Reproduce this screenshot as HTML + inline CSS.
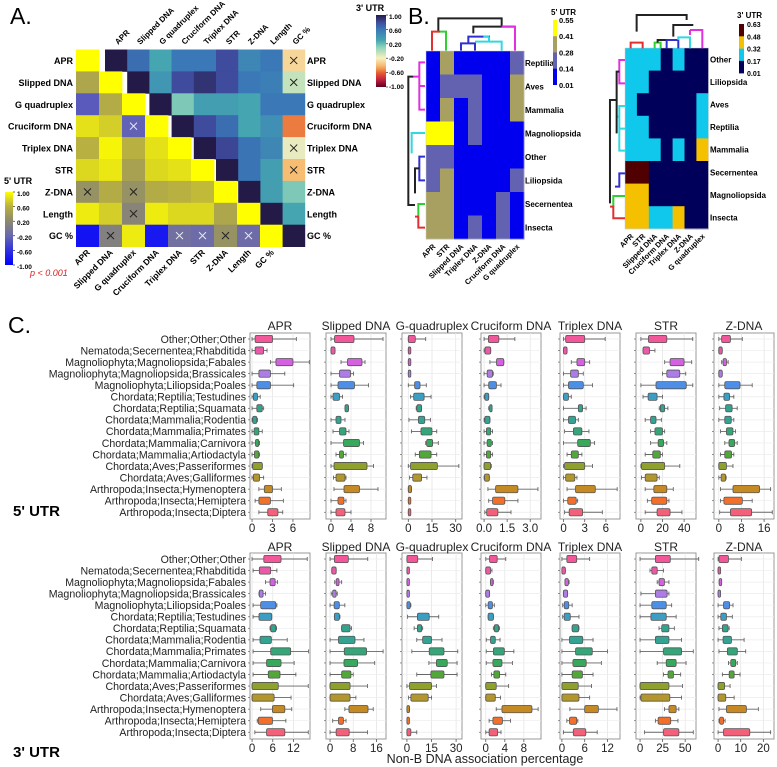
<!DOCTYPE html>
<html><head><meta charset="utf-8">
<style>
html,body{margin:0;padding:0;background:#fff;}
svg{display:block;font-family:"Liberation Sans",Arial,sans-serif;}
.b{font-weight:bold;}
</style></head>
<body>
<svg id="fig" width="777" height="767" viewBox="0 0 777 767" xmlns="http://www.w3.org/2000/svg">
  <text x="10" y="24" font-size="23">A.</text>
  <text x="408" y="24" font-size="23">B.</text>
  <text x="8" y="333" font-size="23">C.</text>
  <g id="panelA"></g>
  <g id="panelB"></g>
  <g id="panelC"></g>
</svg>
<script>
// ---------- Panel A data ----------
const aLabels = ["APR","Slipped DNA","G quadruplex","Cruciform DNA","Triplex DNA","STR","Z-DNA","Length","GC %"];
// 5' UTR lower triangle values (row i, cols 0..i-1)
const a5Values = [
  [],
  [0.5],
  [-0.3,0.55],
  [0.85,0.75,-0.25],
  [0.6,0.95,0.6,0.85],
  [0.8,0.88,0.45,0.8,0.85],
  [0.3,0.55,0.3,0.55,0.6,0.65],
  [0.9,0.75,0.15,0.9,0.8,0.8,0.5],
  [-0.85,0.1,0.9,-0.8,-0.1,-0.15,0.3,-0.15]
];
// 3' UTR upper triangle values (row i, cols i+1..8)
const a3Values = [
  [0.65,0.3,0.6,0.6,0.8,0.5,0.6,-0.3],
  [0.4,0.8,0.9,0.8,0.6,0.55,-0.05],
  [0.15,0.35,0.35,0.3,0.6,0.6],
  [0.8,0.65,0.3,0.45,-0.55],
  [0.82,0.62,0.5,-0.15],
  [0.62,0.35,-0.4],
  [0.35,0.15],
  [0.3],
  []
];
// non-significant markers: [row,col,colour]
const a5Cross = [[3,2,"w"],[6,0,"k"],[6,2,"k"],[7,2,"k"],[8,1,"k"],[8,4,"w"],[8,5,"w"],[8,6,"k"],[8,7,"w"]];
const a3Cross = [[0,8],[1,8],[4,8],[5,8]];
const cbTicks = ["1.00","0.60","0.20","-0.20","-0.60","-1.00"];

// ---------- Panel B data ----------
const bCols5 = ["APR","STR","Slipped DNA","Triplex DNA","Z-DNA","Cruciform DNA","G quadruplex"];
const bRows5 = ["Reptilia","Aves","Mammalia","Magnoliopsida","Other","Liliopsida","Secernentea","Insecta"];
const bVals5 = [
  [0.05,0.35,0.05,0.05,0.05,0.05,0.2],
  [0.05,0.2,0.2,0.2,0.05,0.05,0.35],
  [0.05,0.35,0.05,0.2,0.05,0.05,0.35],
  [0.5,0.5,0.05,0.2,0.05,0.05,0.05],
  [0.2,0.2,0.05,0.05,0.05,0.05,0.05],
  [0.2,0.35,0.05,0.05,0.05,0.05,0.2],
  [0.35,0.35,0.05,0.05,0.05,0.2,0.05],
  [0.35,0.35,0.05,0.2,0.05,0.2,0.05]
];
const bTicks5 = ["0.55","0.41","0.28","0.14","0.01"];
const bCols3 = ["APR","STR","Slipped DNA","Cruciform DNA","Triplex DNA","Z-DNA","G quadruplex"];
const bRows3 = ["Other","Liliopsida","Aves","Reptilia","Mammalia","Secernentea","Magnoliopsida","Insecta"];
const bVals3 = [
  [0.25,0.25,0.25,0.05,0.25,0.05,0.05],
  [0.25,0.25,0.05,0.05,0.05,0.05,0.05],
  [0.25,0.05,0.05,0.05,0.05,0.05,0.25],
  [0.25,0.25,0.05,0.05,0.05,0.05,0.25],
  [0.25,0.25,0.25,0.05,0.25,0.05,0.4],
  [0.6,0.6,0.05,0.05,0.05,0.05,0.05],
  [0.4,0.4,0.05,0.05,0.05,0.05,0.05],
  [0.4,0.4,0.25,0.25,0.4,0.05,0.05]
];
const bTicks3 = ["0.63","0.48","0.32","0.17","0.01"];

// ---------- Panel C data ----------
const cRows = ["Other;Other;Other","Nematoda;Secernentea;Rhabditida","Magnoliophyta;Magnoliopsida;Fabales","Magnoliophyta;Magnoliopsida;Brassicales","Magnoliophyta;Liliopsida;Poales","Chordata;Reptilia;Testudines","Chordata;Reptilia;Squamata","Chordata;Mammalia;Rodentia","Chordata;Mammalia;Primates","Chordata;Mammalia;Carnivora","Chordata;Mammalia;Artiodactyla","Chordata;Aves;Passeriformes","Chordata;Aves;Galliformes","Arthropoda;Insecta;Hymenoptera","Arthropoda;Insecta;Hemiptera","Arthropoda;Insecta;Diptera"];
const cFeatures = ["APR","Slipped DNA","G-quadruplex","Cruciform DNA","Triplex DNA","STR","Z-DNA"];
const cColors = ["#f2579a","#ea5aa8","#d462e0","#ad7ce6","#4d8fe6","#3b9fc4","#34a38e","#34a393","#36a67a","#37a95c","#52a73a","#8fa12c","#b3962c","#c68a25","#f3702b","#f2607a"];
// each row: [whiskerLow, q1, q3, whiskerHigh]
const utr5_APR = [[0,0.45,3.0,6.5],[0,0.45,1.7,2.2],[2.7,3.5,6.0,8.4],[0,1,2.7,4.8],[0,0.7,2.7,6.1],[0,0.2,0.8,1.2],[0,0.7,1.5,1.7],[0,0.1,0.7,0.8],[0,0.3,1.0,1.5],[0,0.5,1.0,1.1],[0,0.35,1.0,1.1],[0,0.1,1.5,1.5],[0,0.2,1.1,1.7],[1,1.8,3.0,4.3],[0.45,1,2.7,4.6],[1,2.3,3.8,4.5]];
const utr5_Slipped = [[0,0.7,4.6,10.4],[0,0,0.8,0.8],[2,3.3,6.2,6.8],[0,1.7,3.9,4.5],[0,1.4,4.7,7.5],[0,0.4,1.7,2.3],[2.8,2.8,3.5,3.5],[0,1,2,2.8],[0.4,1.7,3,3.6],[0,2.5,5.7,6.5],[1,1.7,2.5,3],[0,0.6,7.2,8.5],[0.5,1,2.8,3.0],[0.6,2.6,5.7,9.4],[0,1.4,2.6,3.0],[0,1,2.8,4]];
const utr5_G = [[0,0,4.4,11],[0,0,0.6,0.6],[0,0,0.6,0.6],[0,0,0.6,0.6],[0,4,7.4,11.4],[1.4,3.4,10,14.4],[5,5.4,8.4,8.4],[0.4,6.4,10.4,14],[2,8,15,18],[11,11.6,15.4,19],[4.4,7,14.4,18],[0,1.4,18.4,32],[0.8,2.8,8.4,11.8],[0,0,2,2],[0,0,1.2,1.2],[0,0,1.2,1.2]];
const utr5_Cru = [[0,0.28,0.96,2.0],[0,0.06,0.43,0.43],[0.38,0.81,1.28,1.28],[0,0.2,0.55,0.6],[0,0.3,0.8,1.1],[0,0.05,0.3,0.3],[0.3,0.36,0.5,0.5],[0,0.05,0.38,0.38],[0,0.15,0.43,0.55],[0,0.2,0.47,0.55],[0,0.15,0.43,0.55],[0,0,0.43,0.47],[0,0.03,0.34,0.34],[0.25,0.75,2.2,3.5],[0.3,0.55,1.35,2.2],[0.05,0.17,0.9,1.75]];
const utr5_Tri = [[0,0.3,3,5.9],[0,0,0.5,0.5],[1.1,1.9,3,3.7],[0,1,2.1,2.8],[0,0.7,2.8,4.1],[0,0,0.7,1.1],[0,2.1,2.7,3.2],[0,0.7,1.7,2.1],[0.15,1.4,2.6,3.6],[0,2,3.8,4.4],[0.5,1.1,2.1,2.6],[0,0.15,3,4.1],[0,0.3,1.6,1.9],[0.5,1.7,4.5,7.6],[0,0.6,1.8,2],[0.15,0.8,2.7,5.5]];
const utr5_STR = [[0,7,24,48],[2,2,8,13],[22,27,40,47],[20,24,36,41.5],[0,14,42,48],[2,6.7,15,20],[17,18,22,25],[4,9,14,19],[9,13,20,22],[9,16,21,24],[4,11,18,20],[0,0.6,22,36],[0.6,4,15,17],[4,12,24,30],[6,10,24,26],[4,15,27,38]];
const utr5_Z = [[0,1,4.1,8.3],[0,0,1.2,1.2],[1,1.5,2.7,3.3],[0,0,1.2,1.2],[0,2.1,7.5,11.8],[0,1.8,3.8,5.3],[0.3,2.4,4.7,6.5],[0,2.1,4.4,5.3],[0.6,2.7,5,5.9],[2.1,3.6,5.6,6.5],[0.6,2.1,4.5,5.3],[0,0,2.7,5],[0,0.8,2.4,2.6],[0.6,5,14.4,18.3],[0.6,1.8,8.3,11.8],[0.3,4.1,11.6,18.9]];

const utr3_APR = [[0,3.4,8.4,16],[0.3,2.1,5.4,7.2],[3.9,5.2,6.7,7.4],[2,2.1,3.2,3.9],[0.3,2.5,6.9,7.2],[0.3,2,5.7,5.7],[5.2,5.4,6.9,7.1],[0.3,2.3,5.6,10.2],[0.3,5.4,11.2,16.4],[0.3,4.2,8.4,12.2],[0.3,4.7,8.1,12.7],[0,0,7.6,16.3],[0,0,6.4,11.3],[2.5,5.9,9.5,11.5],[1.5,1.8,5.9,9.8],[0.8,4.2,9.5,16.3]];
const utr3_Slipped = [[0,1.5,6.3,13],[0.6,0.6,2.1,2.1],[1.6,2.1,3.1,4],[0.4,0.9,2.1,2.5],[0,1.4,3.2,5.1],[1.5,1.5,3.2,3.4],[4,4,6.9,7.4],[0,2.9,8.6,11.7],[0,4.9,12.6,18.3],[0,4.8,9.5,15.4],[0,4,7.2,8],[0,0,6.9,12.9],[0,0,6.9,8.9],[5.1,6.5,13.1,14.9],[0.9,2.9,4.6,5.5],[0,2.1,6.6,12.9]];
const utr3_G = [[0,0,6.6,15.6],[0,0,0.6,0.6],[0,0,0.5,0.5],[0,0,0.5,0.5],[0,0,2,2.4],[0.4,6.4,13.6,19.4],[4.4,6.4,9,9.6],[6,9.6,15,21.4],[3,13.6,22.6,31],[13.4,18,24.6,30.6],[6,14.6,22.6,30.6],[0,1.6,15,18],[1,2.4,13,15],[0,0,1.6,1.6],[0,0,0.8,0.8],[0,0,2.4,6]];
const utr3_Cru = [[0,0.8,2.4,4.2],[0,0,1,1.3],[1,1,1.5,1.6],[0,0,0.8,0.8],[0,0.5,1.4,1.8],[0.5,0.5,1.6,1.6],[1.6,1.8,2.7,2.9],[0.1,1,2,3],[0.1,1.6,3.9,5.9],[0.1,1.5,3.4,5.6],[1.2,1.7,2.9,4.2],[0,0,2.2,4.8],[0,0,2,3.1],[2.2,3.4,9.7,11],[0.7,1.5,3.5,5.2],[0,0.7,2.5,3.2]];
const utr3_Tri = [[0,1.3,3.9,7.3],[0,0,0.9,0.9],[0.8,0.8,1.7,1.9],[0.4,0.4,1.5,1.5],[0.2,0.6,1.8,2.7],[0.2,0.6,2.2,4.5],[2.7,2.7,4.4,4.5],[0,2,5.5,8.2],[0,3.6,8,12],[0,2.9,6.4,10.4],[0,2.7,5.4,8.2],[0,0,4.3,7.8],[0,0,4.5,7.3],[2.1,6,9.6,14.5],[1.3,2,3.9,4.2],[0.4,3,6.3,9.3]];
const utr3_STR = [[0,17,33.5,65],[11,13,19,26],[19,21,27,32],[1,17,30,32],[0,13,29,35],[0,12,29,40],[21,24,32,38],[0,17,32,46],[0,26,46,59],[19,29,40,51],[26,31,37,45],[0,0,32,47],[0,1,33,46],[27,32,40,43],[17,20,34,42],[5,26,43,59]];
const utr3_Z = [[0,0.4,4.6,10.3],[0,0,0.9,0.9],[0.5,0.5,1.2,1.2],[0,0,1,1],[0,2.4,5.1,6.6],[0,1.2,3.7,6.3],[0.4,1.9,4.4,4.9],[0,2.2,5.9,11.5],[0.4,4.1,8.5,12.2],[4.6,5.6,7.8,8.5],[1.9,4.9,7.1,9.7],[0,0,2.9,5.3],[0,0,3.4,7.1],[0.4,3.7,12.5,17.8],[0.4,0.7,2.4,3.1],[0,2.4,14,23.2]];

const utr5_domains = [[-0.3,8.5],[-1,11],[-4,34],[-0.2,3.7],[-0.5,8],[-4.5,51],[-1.7,19.5]];
const utr5_ticks = [[0,3,6],[0,4,8],[0,15,30],[0,1.5,3.0],[0,3,6],[0,20,40],[0,8,16]];
const utr5_tickLabels = [["0","3","6"],["0","4","8"],["0","15","30"],["0.0","1.5","3.0"],["0","3","6"],["0","20","40"],["0","8","16"]];
const utr3_domains = [[-0.6,16.8],[-1.4,19.3],[-3,33.6],[-1,11.6],[-0.5,15.3],[-4.5,62],[-1.8,24.7]];
const utr3_ticks = [[0,6,12],[0,8,16],[0,15,30],[0,4,8],[0,6,12],[0,25,50],[0,10,20]];
const utr3_tickLabels = [["0","6","12"],["0","8","16"],["0","15","30"],["0","4","8"],["0","6","12"],["0","25","50"],["0","10","20"]];

// ---------- helpers ----------
const NS = "http://www.w3.org/2000/svg";
function mk(tag, attrs, parent, txt){
  const e = document.createElementNS(NS, tag);
  for (const k in attrs) e.setAttribute(k, attrs[k]);
  if (txt !== undefined) e.textContent = txt;
  parent.appendChild(e);
  return e;
}
function hex(h){return [parseInt(h.substr(1,2),16),parseInt(h.substr(3,2),16),parseInt(h.substr(5,2),16)];}
function interp(stops, v){
  if (v <= stops[0][0]) return stops[0][1];
  for (let i=1;i<stops.length;i++){
    if (v <= stops[i][0]){
      const t=(v-stops[i-1][0])/(stops[i][0]-stops[i-1][0]);
      const a=hex(stops[i-1][1]), b=hex(stops[i][1]);
      return "rgb("+a.map((x,k)=>Math.round(x+(b[k]-x)*t)).join(",")+")";
    }
  }
  return stops[stops.length-1][1];
}
const cmap5 = [[-1,"#0000ff"],[-0.6,"#3030e0"],[-0.2,"#6868b0"],[0.2,"#8c8870"],[0.6,"#b8b040"],[1,"#ffff00"]];
const cmap3 = [[-1,"#600020"],[-0.8,"#c02040"],[-0.6,"#e86030"],[-0.45,"#f5b060"],[-0.2,"#f8f0c0"],[0.1,"#8fd4b8"],[0.3,"#45a5b0"],[0.6,"#3a78b8"],[0.8,"#3f4b9c"],[1,"#241a48"]];

// ---------- Panel A ----------
(function(){
  const g = document.getElementById("panelA");
  const x5=76, w5=23, y0=49.5, h=21.9, x3=105, w3=22.2;
  const defs = mk("defs",{},g);
  const lg3 = mk("linearGradient",{id:"g3",x1:0,y1:0,x2:0,y2:1},defs);
  const lg5 = mk("linearGradient",{id:"g5",x1:0,y1:0,x2:0,y2:1},defs);
  for (let i=0;i<=20;i++){ const v=1-i*0.1;
    mk("stop",{offset:(i/20),"stop-color":interp(cmap3,v)},lg3);
    mk("stop",{offset:(i/20),"stop-color":interp(cmap5,v)},lg5);
  }
  for (let i=0;i<9;i++){
    // 5' lower triangle
    for (let j=0;j<=i;j++){
      const v = (j===i)?1:a5Values[i][j];
      const r = mk("rect",{x:x5+j*w5,y:y0+i*h,width:w5+0.4,height:h+0.4,fill:interp(cmap5,v)},g);
      
      
    }
    // 3' upper triangle
    for (let j=i;j<9;j++){
      const v = (j===i)?1:a3Values[i][j-i-1];
      const r = mk("rect",{x:x3+j*w3,y:y0+i*h,width:w3+0.4,height:h+0.4,fill:interp(cmap3,v)},g);
      
      
    }
    const tl = mk("text",{x:73,y:y0+i*h+h/2+3.5,"font-size":9,"font-weight":"bold","text-anchor":"end"},g,aLabels[i]);
    
    
    const tr = mk("text",{x:307,y:y0+i*h+h/2+3.5,"font-size":9,"font-weight":"bold"},g,aLabels[i]);
    
    
    const cx = x3+(i+0.5)*w3+2, ct = mk("text",{x:cx,y:45,"font-size":8,"font-weight":"bold",transform:"rotate(-45 "+cx+" 45)"},g,aLabels[i]);
    
    
    const bx = x5+(i+0.5)*w5+3, cb = mk("text",{x:bx,y:253,"font-size":8.5,"font-weight":"bold","text-anchor":"end",transform:"rotate(-45 "+bx+" 253)"},g,aLabels[i]);
    
    
  }
  function cross(cx,cy,col){
    const s=3.5, st=col==="w"?"#e8e8f0":"#222";
    const p=mk("path",{d:`M${cx-s},${cy-s}L${cx+s},${cy+s}M${cx+s},${cy-s}L${cx-s},${cy+s}`,stroke:st,"stroke-width":1},g);
    
    
  }
  a5Cross.forEach(c=>cross(x5+(c[1]+0.5)*w5,y0+(c[0]+0.5)*h,c[2]));
  a3Cross.forEach(c=>cross(x3+(c[1]+0.5)*w3,y0+(c[0]+0.5)*h,"k"));
  // colorbars
  const cb3=mk("rect",{x:376,y:15,width:10,height:72,fill:"url(#g3)"},g);
  
  
  mk("text",{x:356,y:11,"font-size":9,"font-weight":"bold"},g,"3' UTR");
  const cb5=mk("rect",{x:5,y:192,width:8,height:73,fill:"url(#g5)"},g);
  
  
  mk("text",{x:4,y:184,"font-size":9,"font-weight":"bold"},g,"5' UTR");
  cbTicks.forEach((t,i)=>{
    mk("text",{x:389,y:17+i*14+2,"font-size":6.5,"font-weight":"bold"},g,t);
    mk("line",{x1:386,x2:388,y1:15+i*14.4,y2:15+i*14.4,stroke:"#000","stroke-width":0.6},g);
    mk("text",{x:17,y:194+i*14.6+2,"font-size":6.5,"font-weight":"bold"},g,t);
    mk("line",{x1:13,x2:15,y1:192+i*14.6,y2:192+i*14.6,stroke:"#000","stroke-width":0.6},g);
  });
  const pv=mk("text",{x:30,y:276,"font-size":9,"font-style":"italic",fill:"#e02020"},g,"p < 0.001");
  
  
})();

// ---------- Panel B ----------
(function(){
  const g = document.getElementById("panelB");
  const pal5 = [[0.01,"#0000ee"],[0.14,"#6262b0"],[0.28,"#a8a060"],[0.41,"#ffff00"]];
  const pal3 = [[0.01,"#00005a"],[0.17,"#10c8ec"],[0.32,"#f5c000"],[0.48,"#500000"]];
  function disc(p,v){let c=p[0][1]; for(const s of p){ if(v>=s[0]) c=s[1]; } return c;}
  function heat(vals,rows,cols,pal,x0,y0,cw,rh,lx,name){
    vals.forEach((row,i)=>row.forEach((v,j)=>{
      const r=mk("rect",{x:x0+j*cw,y:y0+i*rh,width:cw+0.4,height:rh+0.4,fill:disc(pal,v)},g);
      
      
    }));
    mk("rect",{x:x0,y:y0,width:cw*cols.length,height:rh*rows.length,fill:"none",stroke:"#ccc","stroke-width":0.5},g);
    rows.forEach((t,i)=>{
      const e=mk("text",{x:lx,y:y0+(i+0.5)*rh+3,"font-size":8,"font-weight":"bold"},g,t);
      
      
    });
    cols.forEach((t,j)=>{
      const cx=x0+(j+0.5)*cw+3, cy=y0+rows.length*rh+8;
      const e=mk("text",{x:cx,y:cy,"font-size":7.5,"font-weight":"bold","text-anchor":"end",transform:`rotate(-45 ${cx} ${cy})`},g,t);
      
      
    });
  }
  heat(bVals5,bRows5,bCols5,pal5,426,51,14,23.5,525,"utr5-cluster");
  heat(bVals3,bRows3,bCols3,pal3,625,48,11.9,22.6,710,"utr3-cluster");
  // legends
  const l5=["#ffff00","#a8a060","#6262b0","#0000ee"], l3=["#500000","#f5c000","#10c8ec","#00005a"];
  l5.forEach((c,i)=>mk("rect",{x:553,y:20+i*16.2,width:4,height:16.4,fill:c},g));
  l3.forEach((c,i)=>mk("rect",{x:739,y:24+i*12.3,width:5,height:12.5,fill:c},g));
  mk("text",{x:551,y:15,"font-size":8,"font-weight":"bold"},g,"5' UTR");
  mk("text",{x:737,y:18,"font-size":8,"font-weight":"bold"},g,"3' UTR");
  bTicks5.forEach((t,i)=>mk("text",{x:559,y:23+i*16.2,"font-size":7.5,"font-weight":"bold"},g,t));
  bTicks3.forEach((t,i)=>mk("text",{x:747,y:27+i*12.3,"font-size":7,"font-weight":"bold"},g,t));
  // dendrograms (drawn in zoomed coords)
  const d = mk("g",{transform:"translate(390,0) scale(0.3333)",fill:"none","stroke-width":6},g);
  
  
  const segs = [
    ["#222","M145,95 V55 H335 V80"],
    ["#e03030","M126,152 V95 H150"],["#30d030","M150,95 H168 V152"],
    ["#222","M250,100 V80 H375"],
    ["#3030d0","M213,152 V130 H255 V152 M235,130 V110 H297 V125"],
    ["#30d8e0","M255,125 H297 M297,110 V125 H335 V152 M280,110 H297"],
    ["#e030e0","M335,80 H375 V152"],
    ["#e030e0","M105,187 H88 V329 H105 M88,258 H105 M88,230 H70"],
    ["#222","M70,230 H55 V615 H75"],
    ["#30d8e0","M105,399 H65 V460"],
    ["#3030d0","M105,470 H88 V541 H105"],
    ["#222","M88,505 H75 V580"],
    ["#30d030","M105,612 H85 V650"],["#e03030","M105,683 H85 V650 H75"],
    // right
    ["#222","M740,95 V45 H890 V60"],
    ["#e03030","M722,145 V128 H758 V145"],
    ["#30d030","M794,145 V128 H812 V145"],
    ["#222","M803,128 V120 H850 M850,110 V75 H910"],
    ["#3030d0","M830,145 V120 H865 V145"],
    ["#30d8e0","M865,120 V112 H900 V145"],
    ["#e030e0","M900,90 H937 V145 M900,90 V105"],
    ["#e030e0","M705,180 H688 V250 H705"],
    ["#30d8e0","M705,318 H688 V452 H705 M688,386 H705 M688,350 H680"],
    ["#222","M688,215 H680 V400 M680,300 H660 V610"],
    ["#3030d0","M705,520 H688 V560 H675"],
    ["#30d030","M705,588 H670 V620"],["#e03030","M705,655 H670 V620 H660"]
  ];
  segs.forEach(s=>mk("path",{d:s[1],stroke:s[0]},d));
})();

// ---------- Panel C ----------
(function(){
  const g = document.getElementById("panelC");
  const px = [250,326,402,481,560,636,714], pw = 60, rowH = 11.55;
  const data5 = [utr5_APR,utr5_Slipped,utr5_G,utr5_Cru,utr5_Tri,utr5_STR,utr5_Z];
  const data3 = [utr3_APR,utr3_Slipped,utr3_G,utr3_Cru,utr3_Tri,utr3_STR,utr3_Z];
  function block(data, doms, ticks, tlabels, top, bottom, firstRow, titleY, name){
    cRows.forEach((r,i)=>{
      const t=mk("text",{x:246,y:firstRow+i*rowH+3.8,"font-size":10.6,"text-anchor":"end",fill:"#222"},g,r);
      
      
    });
    data.forEach((rows,k)=>{
      const x0=px[k], dom=doms[k];
      const sx = v => x0 + (v-dom[0])/(dom[1]-dom[0])*pw;
      const pg = mk("g",{},g);
      
      
      mk("rect",{x:x0,y:top,width:pw,height:bottom-top,fill:"#fff",stroke:"#999","stroke-width":1},pg);
      ticks[k].forEach((tv,ti)=>{
        mk("line",{x1:sx(tv),x2:sx(tv),y1:top,y2:bottom,stroke:"#e6e6e6","stroke-width":0.8},pg);
        mk("line",{x1:sx(tv),x2:sx(tv),y1:bottom,y2:bottom+3,stroke:"#555","stroke-width":0.8},pg);
        mk("text",{x:sx(tv),y:bottom+13,"font-size":11.5,"text-anchor":"middle",fill:"#222"},pg,tlabels[k][ti]);
      });
      cRows.forEach((r,i)=>{
        const y=firstRow+i*rowH;
        mk("line",{x1:x0,x2:x0+pw,y1:y,y2:y,stroke:"#ececec","stroke-width":0.7},pg);
        mk("line",{x1:x0-2,x2:x0,y1:y,y2:y,stroke:"#666","stroke-width":0.7},pg);
      });
      rows.forEach((b,i)=>{
        const y=firstRow+i*rowH;
        const w=mk("path",{d:`M${sx(b[0])},${y}H${sx(b[1])}M${sx(b[2])},${y}H${sx(b[3])}M${sx(b[0])},${y-2}V${y+2}M${sx(b[3])},${y-2}V${y+2}`,stroke:"#666","stroke-width":0.9},pg);
        
        
        const bx=mk("rect",{x:sx(b[1]),y:y-3.6,width:Math.max(2.5,sx(b[2])-sx(b[1])),height:7.2,rx:1.5,fill:cColors[i],stroke:"#555","stroke-width":0.8},pg);
        
        
      });
      const tt=mk("text",{x:x0+pw/2,y:titleY,"font-size":12,"text-anchor":"middle",fill:"#222"},pg,cFeatures[k]);
      
      
    });
  }
  block(data5,utr5_domains,utr5_ticks,utr5_tickLabels,333,519,339,330,"utr5");
  block(data3,utr3_domains,utr3_ticks,utr3_tickLabels,553,739,559,551,"utr3");
  const a=mk("text",{x:13,y:516,"font-size":15,"font-weight":"bold"},g,"5' UTR");
  
  
  const b=mk("text",{x:13,y:757,"font-size":15,"font-weight":"bold"},g,"3' UTR");
  
  
  const xl=mk("text",{x:485,y:763,"font-size":12.5,"text-anchor":"middle",fill:"#222"},g,"Non-B DNA association percentage");
  
  
})();
</script>
</body></html>
